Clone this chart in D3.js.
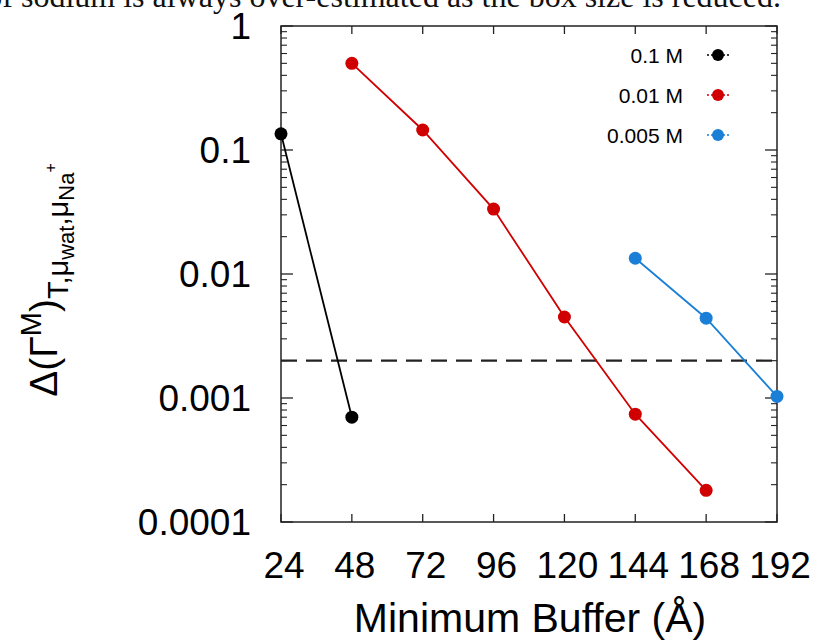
<!DOCTYPE html>
<html>
<head>
<meta charset="utf-8">
<script src="https://cdn.jsdelivr.net/npm/d3@7"></script>
<style>
  body { margin: 0; background: #fff; }
  svg { display: block; }
</style>
</head>
<body>
<div id="chart"></div>
<script>
// chart data
const bufferTicks = [24, 48, 72, 96, 120, 144, 168, 192];
const yTickValues = [1, 0.1, 0.01, 0.001, 0.0001];
const yTickLabels = ['1', '0.1', '0.01', '0.001', '0.0001'];
const seriesNames = ['0.1 M', '0.01 M', '0.005 M'];
const seriesColors = ['#000000', '#d00000', '#1a7fd6'];
const buf01 = [24, 48];
const val01 = [0.135, 0.0007];
const buf001 = [48, 72, 96, 120, 144, 168];
const val001 = [0.50, 0.145, 0.0334, 0.0045, 0.00074, 0.00018];
const buf0005 = [144, 168, 192];
const val0005 = [0.0134, 0.0044, 0.00103];
const threshold = 0.002;

const W = 817, H = 640;
const margin = { left: 281, right: 40, top: 26, bottom: 118 };
const iw = W - margin.left - margin.right;
const ih = H - margin.top - margin.bottom;
const FONT = '"Liberation Sans", Arial, Helvetica, sans-serif';

const svg = d3.select('#chart').append('svg')
  .attr('width', W).attr('height', H);

// cropped caption text from the surrounding page
svg.append('text')
  .attr('x', 781).attr('y', 7)
  .attr('text-anchor', 'end')
  .attr('font-family', '"Liberation Serif", "Times New Roman", serif')
  .attr('font-size', 32)
  .attr('fill', '#111')
  .text('of sodium is always over-estimated as the box size is reduced.');

const g = svg.append('g').attr('transform', `translate(${margin.left},${margin.top})`);

const x = d3.scaleLinear().domain([24, 192]).range([0, iw]);
const y = d3.scaleLog().domain([0.0001, 1]).range([ih, 0]);

// minor ticks on log axis
const minor = [];
for (let e = -4; e < 0; e++) {
  for (let m = 2; m <= 9; m++) minor.push(m * Math.pow(10, e));
}

const axisColor = '#222';
// y ticks, left and right
yTickValues.forEach(v => {
  g.append('line').attr('x1', 0).attr('x2', 12).attr('y1', y(v)).attr('y2', y(v))
    .attr('stroke', axisColor).attr('stroke-width', 1.3);
  g.append('line').attr('x1', iw).attr('x2', iw - 12).attr('y1', y(v)).attr('y2', y(v))
    .attr('stroke', axisColor).attr('stroke-width', 1.3);
});
minor.forEach(v => {
  g.append('line').attr('x1', 0).attr('x2', 6).attr('y1', y(v)).attr('y2', y(v))
    .attr('stroke', axisColor).attr('stroke-width', 1.1);
  g.append('line').attr('x1', iw).attr('x2', iw - 6).attr('y1', y(v)).attr('y2', y(v))
    .attr('stroke', axisColor).attr('stroke-width', 1.1);
});
// x ticks, bottom and top
bufferTicks.forEach(v => {
  g.append('line').attr('x1', x(v)).attr('x2', x(v)).attr('y1', ih).attr('y2', ih - 8)
    .attr('stroke', axisColor).attr('stroke-width', 1.3);
  g.append('line').attr('x1', x(v)).attr('x2', x(v)).attr('y1', 0).attr('y2', 8)
    .attr('stroke', axisColor).attr('stroke-width', 1.3);
});

g.append('rect').attr('width', iw).attr('height', ih)
  .attr('fill', 'none').attr('stroke', axisColor).attr('stroke-width', 1.5);

// tick labels
g.selectAll('.ylab').data(yTickValues).join('text')
  .attr('x', -30).attr('y', d => y(d)).attr('dy', '0.36em')
  .attr('text-anchor', 'end')
  .attr('font-family', FONT).attr('font-size', 37).attr('fill', '#000')
  .text((d, i) => yTickLabels[i]);

g.selectAll('.xlab').data(bufferTicks).join('text')
  .attr('x', d => x(d) + 3).attr('y', ih + 56)
  .attr('text-anchor', 'middle')
  .attr('font-family', FONT).attr('font-size', 37).attr('fill', '#000')
  .text(d => d);

// axis titles
svg.append('text')
  .attr('x', 530).attr('y', 632)
  .attr('text-anchor', 'middle')
  .attr('font-family', FONT).attr('font-size', 41).attr('fill', '#000')
  .text('Minimum Buffer (Å)');

const yt = svg.append('text')
  .attr('transform', 'translate(57,280) rotate(-90)')
  .attr('text-anchor', 'middle')
  .attr('font-family', FONT).attr('font-size', 39).attr('fill', '#000');
yt.append('tspan').text('Δ(Γ');
yt.append('tspan').attr('font-size', 29).attr('dy', -16).text('M');
yt.append('tspan').attr('dy', 16).text(')');
yt.append('tspan').attr('font-size', 29).attr('dy', 11).text('T,μ');
yt.append('tspan').attr('font-size', 22).attr('dy', 6).text('wat');
yt.append('tspan').attr('font-size', 29).attr('dy', -6).text(',μ');
yt.append('tspan').attr('font-size', 22).attr('dy', 6).text('Na');
yt.append('tspan').attr('font-size', 16).attr('dy', -18).text('+');

// threshold dashed line
g.append('line')
  .attr('x1', 0).attr('x2', iw).attr('y1', y(threshold)).attr('y2', y(threshold))
  .attr('stroke', '#222').attr('stroke-width', 2.2).attr('stroke-dasharray', '16,9');

// series
const series = [
  { xs: buf01, ys: val01 },
  { xs: buf001, ys: val001 },
  { xs: buf0005, ys: val0005 }
];
const line = d3.line().x(d => x(d[0])).y(d => y(d[1]));
series.forEach((s, i) => {
  const pts = s.xs.map((b, j) => [b, s.ys[j]]);
  g.append('path').datum(pts).attr('d', line)
    .attr('fill', 'none').attr('stroke', seriesColors[i]).attr('stroke-width', 1.8);
  g.selectAll(null).data(pts).join('circle')
    .attr('cx', d => x(d[0])).attr('cy', d => y(d[1])).attr('r', 6.5)
    .attr('fill', seriesColors[i]);
});

// legend
seriesNames.forEach((name, i) => {
  const ly = 55 + i * 40;
  svg.append('text')
    .attr('x', 683).attr('y', ly).attr('dy', '0.36em')
    .attr('text-anchor', 'end')
    .attr('font-family', FONT).attr('font-size', 21).attr('fill', '#000')
    .text(name);
  svg.append('line')
    .attr('x1', 707).attr('x2', 729).attr('y1', ly).attr('y2', ly)
    .attr('stroke', seriesColors[i]).attr('stroke-width', 1.5).attr('stroke-dasharray', '2,2');
  svg.append('circle')
    .attr('cx', 718).attr('cy', ly).attr('r', 6)
    .attr('fill', seriesColors[i]);
});
</script>
</body>
</html>
